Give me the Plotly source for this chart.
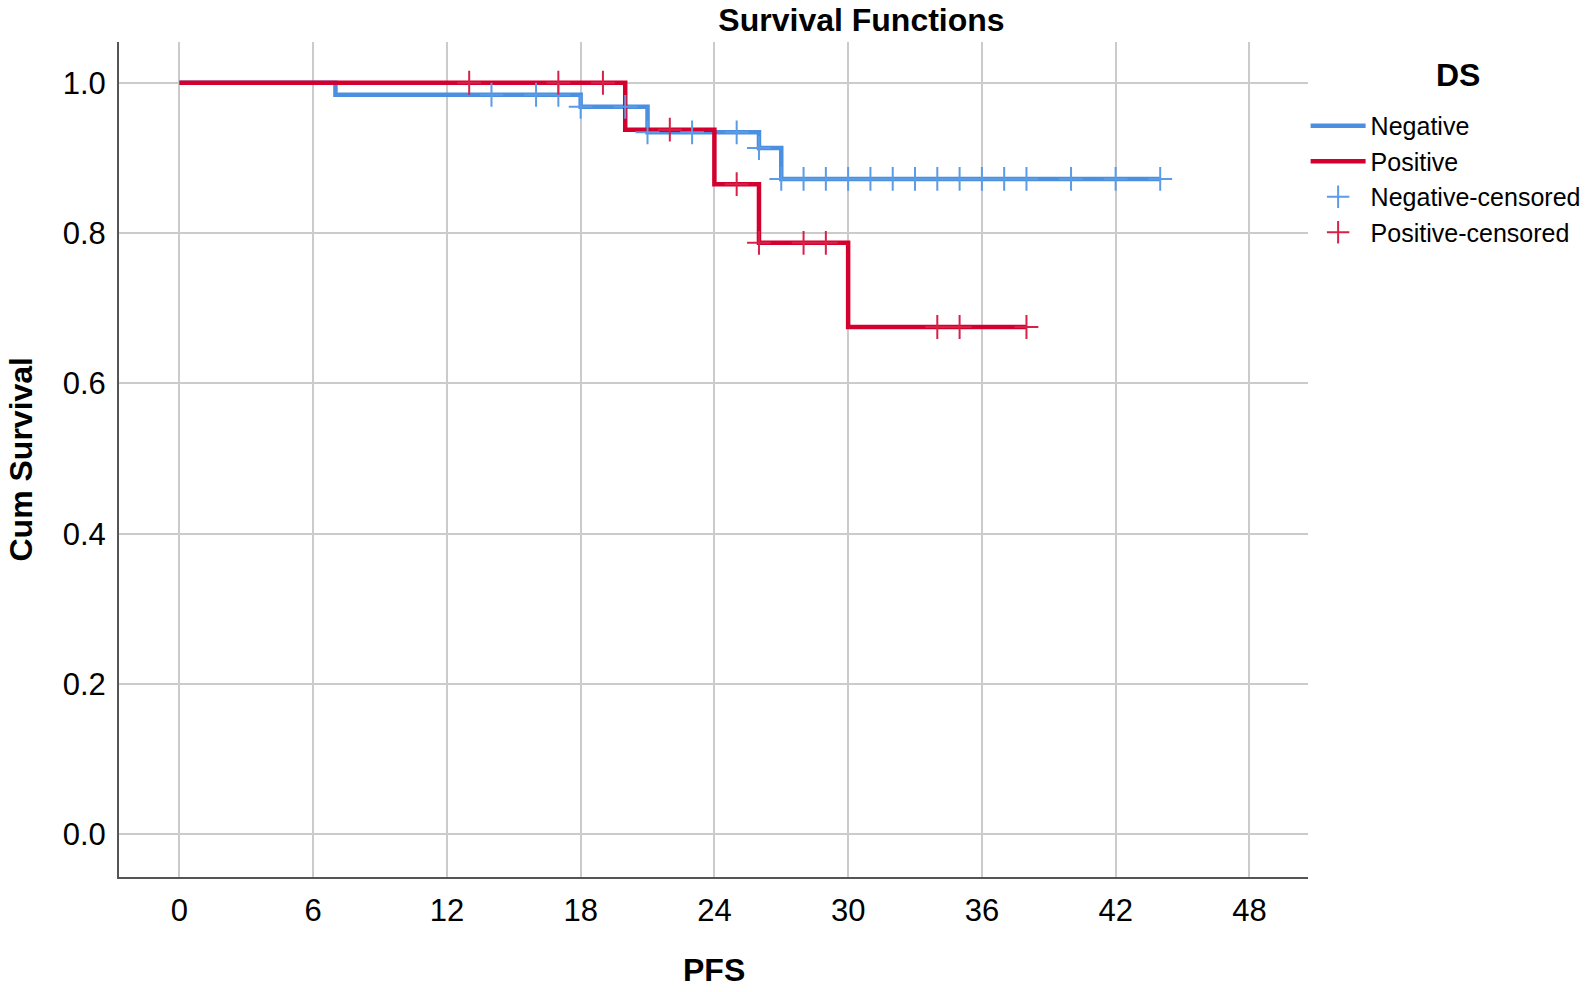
import plotly.graph_objects as go

# ---- data ----
neg_times = [0, 7, 18, 21, 26, 27, 44]
neg_surv = [1.0, 0.984, 0.968, 0.934, 0.913, 0.872, 0.872]
pos_times = [0, 20, 24, 26, 30, 38]
pos_surv = [1.0, 0.9375, 0.865, 0.787, 0.675, 0.675]

neg_censor_times = [14, 16, 17, 18, 20, 21, 23, 25, 26, 27, 28, 29, 30, 31, 32,
                    33, 34, 35, 36, 37, 38, 40, 42, 44]
pos_censor_times = [13, 17, 19, 22, 25, 26, 28, 29, 34, 35, 38]

x_ticks = [0, 6, 12, 18, 24, 30, 36, 42, 48]
y_ticks = [0.0, 0.2, 0.4, 0.6, 0.8, 1.0]


def surv_at(t, times, surv):
    v = surv[0]
    for tt, s in zip(times, surv):
        if tt <= t:
            v = s
    return v


neg_censor_surv = [surv_at(t, neg_times, neg_surv) for t in neg_censor_times]
pos_censor_surv = [surv_at(t, pos_times, pos_surv) for t in pos_censor_times]

BLUE = "#4a8fe0"
RED = "#d3002f"
BLUE_L = "#5c9be6"
RED_L = "#d82149"
FONT = "Liberation Sans, Arial, sans-serif"

fig = go.Figure()
fig.add_trace(go.Scatter(x=neg_times, y=neg_surv, mode="lines", name="Negative",
                         line=dict(color=BLUE, width=4.5, shape="hv")))
fig.add_trace(go.Scatter(x=pos_times, y=pos_surv, mode="lines", name="Positive",
                         line=dict(color=RED, width=4.5, shape="hv")))
fig.add_trace(go.Scatter(x=neg_censor_times, y=neg_censor_surv, mode="markers",
                         name="Negative-censored",
                         marker=dict(symbol="cross-thin", size=17,
                                     line=dict(color=BLUE_L, width=2))))
fig.add_trace(go.Scatter(x=pos_censor_times, y=pos_censor_surv, mode="markers",
                         name="Positive-censored",
                         marker=dict(symbol="cross-thin", size=17,
                                     line=dict(color=RED_L, width=2))))

fig.update_layout(
    width=1594, height=992,
    margin=dict(l=119, r=286, t=42, b=115, autoexpand=False),
    paper_bgcolor="white", plot_bgcolor="white",
    font=dict(family=FONT, color="black"),
    title=dict(text="<b>Survival Functions</b>", x=861.5 / 1594, xref="container",
               xanchor="center", y=1 - 20 / 992, yref="container", yanchor="middle",
               font=dict(size=32, family=FONT, color="black")),
    legend=dict(
        x=0.998, xanchor="left", y=0.927, yanchor="top",
        font=dict(size=25, family=FONT, color="black"),
        bgcolor="rgba(0,0,0,0)", borderwidth=0,
        itemwidth=55,
    ),
    showlegend=True,
)

fig.update_xaxes(
    range=[-2.71, 50.63], tickvals=x_ticks, ticktext=[str(v) for v in x_ticks],
    showgrid=True, gridcolor="#cbcbcb", gridwidth=2, zeroline=False,
    showline=True, linecolor="#555555", linewidth=2, ticks="",
    tickfont=dict(size=31, family=FONT, color="black"), ticklabelstandoff=5,
)
fig.update_yaxes(
    range=[-0.0568, 1.0542], tickvals=y_ticks, tickformat=".1f",
    showgrid=True, gridcolor="#cbcbcb", gridwidth=2, zeroline=False,
    showline=True, linecolor="#555555", linewidth=2, ticks="",
    tickfont=dict(size=31, family=FONT, color="black"), ticklabelstandoff=5,
)

fig.add_annotation(text="<b>Cum Survival</b>", textangle=-90, xref="paper", yref="paper",
                   x=(20 - 119) / 1189, y=0.5, xanchor="center", yanchor="middle",
                   showarrow=False, font=dict(size=32, family=FONT, color="black"))
fig.add_annotation(text="<b>PFS</b>", xref="paper", yref="paper",
                   x=(713.5 - 119) / 1189, y=-(970 - 877) / 835, xanchor="center",
                   yanchor="middle", showarrow=False,
                   font=dict(size=32, family=FONT, color="black"))
fig.add_annotation(text="<b>DS</b>", xref="paper", yref="paper",
                   x=(1458 - 119) / 1189, y=1 - (75 - 42) / 835, xanchor="center",
                   yanchor="middle", showarrow=False,
                   font=dict(size=32, family=FONT, color="black"))

fig.write_html("out.html", config={"displayModeBar": False},
               post_script="document.body.style.margin='0';")
